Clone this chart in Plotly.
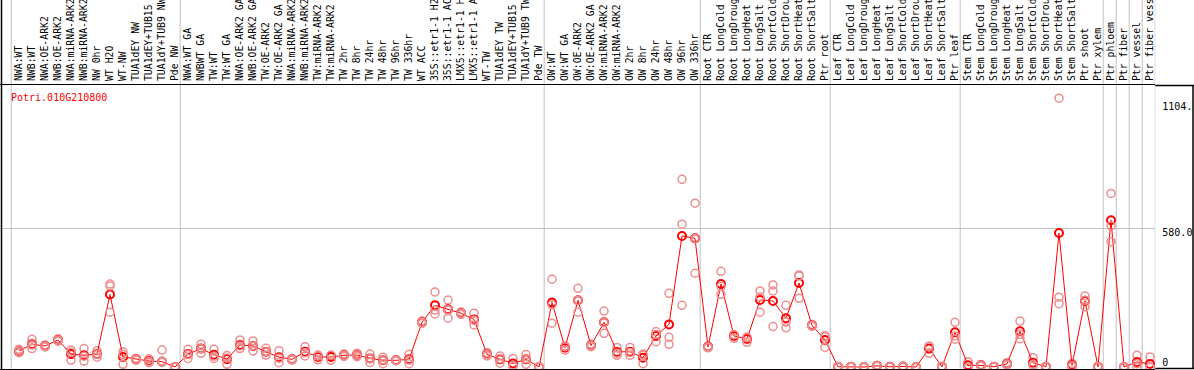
import plotly.graph_objects as go

W, H = 1194, 370

gene = "Potri.010G210800"

groups = [
    ["NWA:WT", "NWB:WT", "NWA:OE-ARK2", "NWB:OE-ARK2", "NWA:miRNA-ARK2", "NWB:miRNA-ARK2",
     "NW 0hr", "WT H2O", "WT-NW", "TUA1dEY NW", "TUA1dEY+TUB15 NW", "TUA1dY+TUB9 NW", "Pde NW"],
    ["NWA:WT GA", "NWBWT GA", "TW:WT", "TW:WT GA", "NWA:OE-ARK2 GA", "NWB:OE-ARK2 GA",
     "TW:OE-ARK2", "TW:OE-ARK2 GA", "NWA:miRNA-ARK2", "NWB:miRNA-ARK2", "TW:miRNA-ARK2",
     "TW:miRNA-ARK2", "TW 2hr", "TW 8hr", "TW 24hr", "TW 48hr", "TW 96hr", "TW 336hr",
     "WT ACC", "35S::etr1-1 H2", "35S::etr1-1 AC", "LMX5::etr1-1 H", "LMX5::etr1-1 A",
     "WT-TW", "TUA1dEY TW", "TUA1dEY+TUB15 TW", "TUA1dY+TUB9 TW", "Pde TW"],
    ["OW:WT", "OW:WT GA", "OW:OE-ARK2", "OW:OE-ARK2 GA", "OW:miRNA-ARK2", "OW:miRNA-ARK2",
     "OW 2hr", "OW 8hr", "OW 24hr", "OW 48hr", "OW 96hr", "OW 336hr"],
    ["Root CTR", "Root LongCold", "Root LongDroug", "Root LongHeat", "Root LongSalt",
     "Root ShortCold", "Root ShortDrou", "Root ShortHeat", "Root ShortSalt", "Ptr root"],
    ["Leaf CTR", "Leaf LongCold", "Leaf LongDroug", "Leaf LongHeat", "Leaf LongSalt",
     "Leaf ShortCold", "Leaf ShortDrou", "Leaf ShortHeat", "Leaf ShortSalt", "Ptr leaf"],
    ["Stem CTR", "Stem LongCold", "Stem LongDroug", "Stem LongHeat", "Stem LongSalt",
     "Stem ShortCold", "Stem ShortDrou", "Stem ShortHeat", "Stem ShortSalt", "Ptr shoot",
     "Ptr xylem"],
    ["Ptr phloem"],
    ["Ptr fiber"],
    ["Ptr vessel"],
    ["Ptr fiber vess"],
]
labels = [s for g in groups for s in g]

mean = [67, 95, 88, 113, 54, 49, 54, 303, 42, 32, 25, 22, 0,
        54, 77, 51, 33, 92, 88, 64, 41, 32, 64, 42, 42, 49, 50, 36, 28, 28, 32, 187,
        258, 241, 225, 199, 53, 32, 15, 32, 0,
        270, 81, 279, 90, 187, 63, 64, 39, 130, 178, 548, 538,
        84, 347, 130, 117, 280, 276, 204, 351, 174, 113,
        1, 1, 0, 5, 1, 2, 0, 77, 1, 145,
        7, 7, 1, 13, 149, 18, 1, 560, 7, 276, 1,
        614, 0, 21, 13]

rep1 = [60, 116, 92, 118, 71, 77, 68, 347, 63, 36, 34, 71, 0,
        74, 95, 74, 48, 113, 109, 78, 68, 35, 85, 50, 48, 54, 57, 54, 41, 30, 53, 192,
        314, 280, 230, 225, 60, 46, 36, 52, 0,
        367, 88, 329, 95, 234, 82, 82, 54, 148, 308, 785, 685,
        88, 400, 135, 125, 318, 343, 258, 385, 178, 131,
        1, 1, 0, 6, 1, 2, 0, 88, 1, 187,
        22, 10, 1, 18, 192, 39, 1, 1124, 15, 297, 1,
        726, 0, 49, 42]

rep2 = [67, 92, 88, 113, 62, 45, 53, 339, 52, 32, 23, 25, 0,
        52, 77, 45, 38, 88, 88, 64, 37, 32, 60, 46, 50, 49, 50, 35, 29, 28, 29, 187,
        238, 239, 225, 196, 53, 34, 6, 33, 0,
        260, 85, 279, 90, 186, 58, 61, 49, 136, 124, 597, 537,
        84, 337, 135, 123, 293, 318, 188, 381, 174, 126,
        1, 1, 0, 5, 1, 2, 0, 86, 1, 130,
        0, 7, 1, 13, 137, 11, 1, 292, 4, 279, 1,
        590, 0, 14, 0]

rep3 = [74, 77, 84, 108, 29, 25, 41, 229, 11, 28, 18, 20, 0,
        36, 57, 36, 11, 77, 67, 50, 18, 29, 46, 30, 28, 44, 43, 19, 14, 26, 14, 182,
        222, 204, 220, 176, 46, 16, 3, 11, 0,
        183, 70, 229, 85, 141, 49, 49, 14, 106, 95, 258, 392,
        80, 304, 120, 103, 229, 169, 164, 287, 170, 82,
        1, 1, 0, 4, 1, 2, 0, 57, 1, 116,
        0, 4, 1, 8, 118, 4, 1, 265, 2, 252, 1,
        524, 0, 0, 0]

ytick_vals = [0, 580, 1104]
ytick_text = ["0", "580.0", "1104."]

# ---- layout geometry (pixels) ----
x0_px, step_px = 19.0, 13.0
plot_right = 1155.3
plot_top, plot_bot = 85.0, 369.0
y0_px, y580_px = 367.0, 228.3
ppu = (y0_px - y580_px) / ytick_vals[1]

xr = [(0 - x0_px) / step_px, (plot_right - x0_px) / step_px]
yr = [-(plot_bot - y0_px) / ppu, (y0_px - plot_top) / ppu]
ydom = [(H - plot_bot) / H, (H - plot_top) / H]

n = len(labels)
xs = list(range(n))
font = "DejaVu Sans Mono"
rep_color = "#EE8E8E"

fig = go.Figure()
for r, ya in ((rep1, "y"), (rep2, "y2"), (rep3, "y3")):
    fig.add_trace(go.Scatter(
        x=xs, y=r, yaxis=ya, mode="markers", cliponaxis=False, showlegend=False,
        marker=dict(symbol="circle-open", size=8, color=rep_color, line=dict(width=1.5)),
    ))
fig.add_trace(go.Scatter(
    x=xs, y=mean, mode="lines+markers", cliponaxis=False, showlegend=False,
    line=dict(color="#FF0000", width=1),
    marker=dict(symbol="circle-open", size=8, color="#FF0000", line=dict(width=2)),
))

# group separators
shapes = []
bounds = [-0.6]
c = 0
for g in groups:
    c += len(g)
    bounds.append(c - 1 + 0.4)
for b in bounds:
    shapes.append(dict(type="line", xref="x", yref="paper", x0=b, x1=b, y0=0, y1=1,
                       line=dict(color="#C0C0C0", width=1), layer="below"))

def px(xp):
    return xp / W

def py(yp):
    return 1 - yp / H

shapes += [
    dict(type="line", xref="paper", yref="paper", x0=px(1.5), x1=px(1.5), y0=0, y1=1,
         line=dict(color="black", width=1.5), layer="above"),
    dict(type="line", xref="paper", yref="paper", x0=px(plot_right), x1=1, y0=py(85.5), y1=py(85.5),
         line=dict(color="black", width=1.5), layer="above"),
    dict(type="line", xref="paper", yref="paper", x0=px(plot_right), x1=1, y0=py(368.5), y1=py(368.5),
         line=dict(color="black", width=1.5), layer="above"),
    dict(type="line", xref="paper", yref="paper", x0=px(1193), x1=px(1193), y0=py(85), y1=py(369),
         line=dict(color="black", width=1.5), layer="above"),
]

tf = dict(family=font, size=10, color="black")
xtf = dict(family=font, size=9.8, color="black")
yax_common = dict(range=yr, side="right", anchor="x", tickmode="array", ticks="",
                  zeroline=False, showline=False, automargin=False, ticklabelstandoff=6,
                  tickfont=tf)

fig.update_layout(
    template="none",
    width=W, height=H,
    margin=dict(l=0, r=0, t=0, b=0, pad=0),
    paper_bgcolor="white", plot_bgcolor="white",
    showlegend=False,
    font=tf,
    xaxis=dict(domain=[0, plot_right / W], range=xr, side="top", anchor="y",
               tickmode="array", tickvals=xs, ticktext=labels, tickangle=-90,
               ticks="", showgrid=False, zeroline=False,
               showline=True, mirror=True, linecolor="black", linewidth=1,
               ticklabelstandoff=1, automargin=False, tickfont=xtf),
    yaxis=dict(domain=ydom, tickvals=[ytick_vals[1]], ticktext=[ytick_text[1]],
               showgrid=True, gridcolor="#C0C0C0", gridwidth=1, ticklabelshift=4,
               **yax_common),
    yaxis2=dict(overlaying="y", tickvals=[ytick_vals[2]], ticktext=[ytick_text[2]],
                showgrid=False, ticklabelshift=4, **yax_common),
    yaxis3=dict(overlaying="y", tickvals=[ytick_vals[0]], ticktext=[ytick_text[0]],
                showgrid=False, ticklabelshift=-5, **yax_common),
    shapes=shapes,
    annotations=[dict(text=gene, xref="paper", yref="paper", x=px(9), y=py(97),
                      xanchor="left", yanchor="middle", showarrow=False,
                      font=dict(family=font, size=10, color="#FF0000"))],
)

fig.write_html("out.html", config={"displayModeBar": False},
               post_script="document.body.style.margin='0px';document.body.style.overflow='hidden';")
